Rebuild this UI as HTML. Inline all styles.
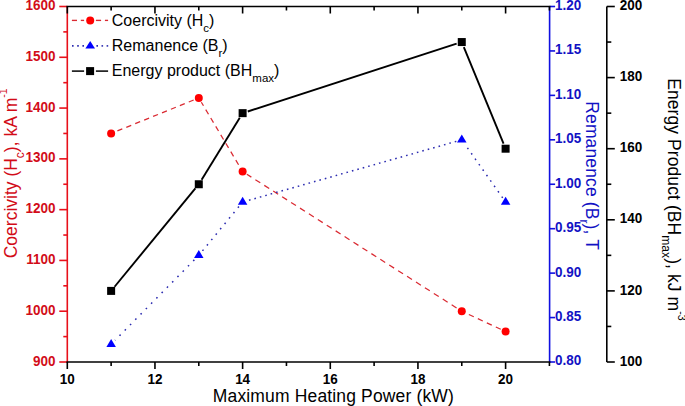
<!DOCTYPE html>
<html><head><meta charset="utf-8"><style>
html,body{margin:0;padding:0;background:#fff;width:685px;height:406px;overflow:hidden}
svg{display:block;font-family:"Liberation Sans",sans-serif}
</style></head><body>
<svg width="685" height="406" viewBox="0 0 685 406" font-family="Liberation Sans, sans-serif">
<rect width="685" height="406" fill="#fff"/>
<line x1="67.30" y1="6.50" x2="67.30" y2="362.00" stroke="#e8101a" stroke-width="1.6" />
<line x1="59.30" y1="362.00" x2="67.30" y2="362.00" stroke="#e8101a" stroke-width="1.6" />
<text transform="translate(55.50,365.60) scale(0.95,1)" fill="#d20c18" font-size="14.2" text-anchor="end" font-weight="bold">900</text>
<line x1="59.30" y1="311.21" x2="67.30" y2="311.21" stroke="#e8101a" stroke-width="1.6" />
<text transform="translate(55.50,314.81) scale(0.95,1)" fill="#d20c18" font-size="14.2" text-anchor="end" font-weight="bold">1000</text>
<line x1="59.30" y1="260.43" x2="67.30" y2="260.43" stroke="#e8101a" stroke-width="1.6" />
<text transform="translate(55.50,264.03) scale(0.95,1)" fill="#d20c18" font-size="14.2" text-anchor="end" font-weight="bold">1100</text>
<line x1="59.30" y1="209.64" x2="67.30" y2="209.64" stroke="#e8101a" stroke-width="1.6" />
<text transform="translate(55.50,213.24) scale(0.95,1)" fill="#d20c18" font-size="14.2" text-anchor="end" font-weight="bold">1200</text>
<line x1="59.30" y1="158.86" x2="67.30" y2="158.86" stroke="#e8101a" stroke-width="1.6" />
<text transform="translate(55.50,162.46) scale(0.95,1)" fill="#d20c18" font-size="14.2" text-anchor="end" font-weight="bold">1300</text>
<line x1="59.30" y1="108.07" x2="67.30" y2="108.07" stroke="#e8101a" stroke-width="1.6" />
<text transform="translate(55.50,111.67) scale(0.95,1)" fill="#d20c18" font-size="14.2" text-anchor="end" font-weight="bold">1400</text>
<line x1="59.30" y1="57.29" x2="67.30" y2="57.29" stroke="#e8101a" stroke-width="1.6" />
<text transform="translate(55.50,60.89) scale(0.95,1)" fill="#d20c18" font-size="14.2" text-anchor="end" font-weight="bold">1500</text>
<line x1="59.30" y1="6.50" x2="67.30" y2="6.50" stroke="#e8101a" stroke-width="1.6" />
<text transform="translate(55.50,10.10) scale(0.95,1)" fill="#d20c18" font-size="14.2" text-anchor="end" font-weight="bold">1600</text>
<line x1="63.30" y1="336.61" x2="67.30" y2="336.61" stroke="#e8101a" stroke-width="1.6" />
<line x1="63.30" y1="285.82" x2="67.30" y2="285.82" stroke="#e8101a" stroke-width="1.6" />
<line x1="63.30" y1="235.04" x2="67.30" y2="235.04" stroke="#e8101a" stroke-width="1.6" />
<line x1="63.30" y1="184.25" x2="67.30" y2="184.25" stroke="#e8101a" stroke-width="1.6" />
<line x1="63.30" y1="133.46" x2="67.30" y2="133.46" stroke="#e8101a" stroke-width="1.6" />
<line x1="63.30" y1="82.68" x2="67.30" y2="82.68" stroke="#e8101a" stroke-width="1.6" />
<line x1="63.30" y1="31.89" x2="67.30" y2="31.89" stroke="#e8101a" stroke-width="1.6" />
<line x1="549.60" y1="6.50" x2="549.60" y2="362.00" stroke="#1010e0" stroke-width="1.6" />
<line x1="549.60" y1="362.00" x2="555.10" y2="362.00" stroke="#1010e0" stroke-width="1.6" />
<text transform="translate(555.00,365.40) scale(0.95,1)" fill="#1212c4" font-size="14.2" text-anchor="start" font-weight="bold">0.80</text>
<line x1="549.60" y1="317.56" x2="555.10" y2="317.56" stroke="#1010e0" stroke-width="1.6" />
<text transform="translate(555.00,320.96) scale(0.95,1)" fill="#1212c4" font-size="14.2" text-anchor="start" font-weight="bold">0.85</text>
<line x1="549.60" y1="273.12" x2="555.10" y2="273.12" stroke="#1010e0" stroke-width="1.6" />
<text transform="translate(555.00,276.52) scale(0.95,1)" fill="#1212c4" font-size="14.2" text-anchor="start" font-weight="bold">0.90</text>
<line x1="549.60" y1="228.69" x2="555.10" y2="228.69" stroke="#1010e0" stroke-width="1.6" />
<text transform="translate(555.00,232.09) scale(0.95,1)" fill="#1212c4" font-size="14.2" text-anchor="start" font-weight="bold">0.95</text>
<line x1="549.60" y1="184.25" x2="555.10" y2="184.25" stroke="#1010e0" stroke-width="1.6" />
<text transform="translate(555.00,187.65) scale(0.95,1)" fill="#1212c4" font-size="14.2" text-anchor="start" font-weight="bold">1.00</text>
<line x1="549.60" y1="139.81" x2="555.10" y2="139.81" stroke="#1010e0" stroke-width="1.6" />
<text transform="translate(555.00,143.21) scale(0.95,1)" fill="#1212c4" font-size="14.2" text-anchor="start" font-weight="bold">1.05</text>
<line x1="549.60" y1="95.37" x2="555.10" y2="95.37" stroke="#1010e0" stroke-width="1.6" />
<text transform="translate(555.00,98.77) scale(0.95,1)" fill="#1212c4" font-size="14.2" text-anchor="start" font-weight="bold">1.10</text>
<line x1="549.60" y1="50.94" x2="555.10" y2="50.94" stroke="#1010e0" stroke-width="1.6" />
<text transform="translate(555.00,54.34) scale(0.95,1)" fill="#1212c4" font-size="14.2" text-anchor="start" font-weight="bold">1.15</text>
<line x1="549.60" y1="6.50" x2="555.10" y2="6.50" stroke="#1010e0" stroke-width="1.6" />
<text transform="translate(555.00,9.90) scale(0.95,1)" fill="#1212c4" font-size="14.2" text-anchor="start" font-weight="bold">1.20</text>
<line x1="606.80" y1="6.50" x2="606.80" y2="362.00" stroke="#000" stroke-width="1.6" />
<line x1="606.80" y1="362.00" x2="614.80" y2="362.00" stroke="#000" stroke-width="1.6" />
<text transform="translate(619.80,365.60) scale(0.95,1)" fill="#000" font-size="14.2" text-anchor="start" font-weight="bold">100</text>
<line x1="606.80" y1="290.90" x2="614.80" y2="290.90" stroke="#000" stroke-width="1.6" />
<text transform="translate(619.80,294.50) scale(0.95,1)" fill="#000" font-size="14.2" text-anchor="start" font-weight="bold">120</text>
<line x1="606.80" y1="219.80" x2="614.80" y2="219.80" stroke="#000" stroke-width="1.6" />
<text transform="translate(619.80,223.40) scale(0.95,1)" fill="#000" font-size="14.2" text-anchor="start" font-weight="bold">140</text>
<line x1="606.80" y1="148.70" x2="614.80" y2="148.70" stroke="#000" stroke-width="1.6" />
<text transform="translate(619.80,152.30) scale(0.95,1)" fill="#000" font-size="14.2" text-anchor="start" font-weight="bold">160</text>
<line x1="606.80" y1="77.60" x2="614.80" y2="77.60" stroke="#000" stroke-width="1.6" />
<text transform="translate(619.80,81.20) scale(0.95,1)" fill="#000" font-size="14.2" text-anchor="start" font-weight="bold">180</text>
<line x1="606.80" y1="6.50" x2="614.80" y2="6.50" stroke="#000" stroke-width="1.6" />
<text transform="translate(619.80,10.10) scale(0.95,1)" fill="#000" font-size="14.2" text-anchor="start" font-weight="bold">200</text>
<line x1="606.80" y1="326.45" x2="611.30" y2="326.45" stroke="#000" stroke-width="1.6" />
<line x1="606.80" y1="255.35" x2="611.30" y2="255.35" stroke="#000" stroke-width="1.6" />
<line x1="606.80" y1="184.25" x2="611.30" y2="184.25" stroke="#000" stroke-width="1.6" />
<line x1="606.80" y1="113.15" x2="611.30" y2="113.15" stroke="#000" stroke-width="1.6" />
<line x1="606.80" y1="42.05" x2="611.30" y2="42.05" stroke="#000" stroke-width="1.6" />
<line x1="66.50" y1="362.00" x2="550.40" y2="362.00" stroke="#000" stroke-width="1.6" />
<line x1="66.50" y1="6.50" x2="550.40" y2="6.50" stroke="#000" stroke-width="1.6" />
<line x1="67.30" y1="362.00" x2="67.30" y2="369.00" stroke="#000" stroke-width="1.6" />
<line x1="67.30" y1="6.50" x2="67.30" y2="13.50" stroke="#000" stroke-width="1.6" />
<text transform="translate(67.30,384.30) scale(0.95,1)" fill="#000" font-size="14.2" text-anchor="middle" font-weight="bold">10</text>
<line x1="111.13" y1="362.00" x2="111.13" y2="366.00" stroke="#000" stroke-width="1.6" />
<line x1="111.13" y1="6.50" x2="111.13" y2="10.50" stroke="#000" stroke-width="1.6" />
<line x1="154.96" y1="362.00" x2="154.96" y2="369.00" stroke="#000" stroke-width="1.6" />
<line x1="154.96" y1="6.50" x2="154.96" y2="13.50" stroke="#000" stroke-width="1.6" />
<text transform="translate(154.96,384.30) scale(0.95,1)" fill="#000" font-size="14.2" text-anchor="middle" font-weight="bold">12</text>
<line x1="198.79" y1="362.00" x2="198.79" y2="366.00" stroke="#000" stroke-width="1.6" />
<line x1="198.79" y1="6.50" x2="198.79" y2="10.50" stroke="#000" stroke-width="1.6" />
<line x1="242.62" y1="362.00" x2="242.62" y2="369.00" stroke="#000" stroke-width="1.6" />
<line x1="242.62" y1="6.50" x2="242.62" y2="13.50" stroke="#000" stroke-width="1.6" />
<text transform="translate(242.62,384.30) scale(0.95,1)" fill="#000" font-size="14.2" text-anchor="middle" font-weight="bold">14</text>
<line x1="286.45" y1="362.00" x2="286.45" y2="366.00" stroke="#000" stroke-width="1.6" />
<line x1="286.45" y1="6.50" x2="286.45" y2="10.50" stroke="#000" stroke-width="1.6" />
<line x1="330.28" y1="362.00" x2="330.28" y2="369.00" stroke="#000" stroke-width="1.6" />
<line x1="330.28" y1="6.50" x2="330.28" y2="13.50" stroke="#000" stroke-width="1.6" />
<text transform="translate(330.28,384.30) scale(0.95,1)" fill="#000" font-size="14.2" text-anchor="middle" font-weight="bold">16</text>
<line x1="374.11" y1="362.00" x2="374.11" y2="366.00" stroke="#000" stroke-width="1.6" />
<line x1="374.11" y1="6.50" x2="374.11" y2="10.50" stroke="#000" stroke-width="1.6" />
<line x1="417.94" y1="362.00" x2="417.94" y2="369.00" stroke="#000" stroke-width="1.6" />
<line x1="417.94" y1="6.50" x2="417.94" y2="13.50" stroke="#000" stroke-width="1.6" />
<text transform="translate(417.94,384.30) scale(0.95,1)" fill="#000" font-size="14.2" text-anchor="middle" font-weight="bold">18</text>
<line x1="461.77" y1="362.00" x2="461.77" y2="366.00" stroke="#000" stroke-width="1.6" />
<line x1="461.77" y1="6.50" x2="461.77" y2="10.50" stroke="#000" stroke-width="1.6" />
<line x1="505.60" y1="362.00" x2="505.60" y2="369.00" stroke="#000" stroke-width="1.6" />
<line x1="505.60" y1="6.50" x2="505.60" y2="13.50" stroke="#000" stroke-width="1.6" />
<text transform="translate(505.60,384.30) scale(0.95,1)" fill="#000" font-size="14.2" text-anchor="middle" font-weight="bold">20</text>
<line x1="549.43" y1="362.00" x2="549.43" y2="366.00" stroke="#000" stroke-width="1.6" />
<line x1="549.43" y1="6.50" x2="549.43" y2="10.50" stroke="#000" stroke-width="1.6" />
<line x1="115.76" y1="131.59" x2="194.16" y2="99.79" stroke="#da2a32" stroke-width="1.25" stroke-dasharray="5.30 4.33" stroke-dashoffset="7.88"/>
<line x1="201.35" y1="102.21" x2="240.06" y2="167.26" stroke="#da2a32" stroke-width="1.25" stroke-dasharray="5.39 4.41" stroke-dashoffset="1.23"/>
<line x1="246.84" y1="174.24" x2="457.55" y2="308.53" stroke="#da2a32" stroke-width="1.25" stroke-dasharray="5.82 4.76" stroke-dashoffset="0.46"/>
<line x1="466.31" y1="313.32" x2="501.06" y2="329.43" stroke="#da2a32" stroke-width="1.25" stroke-dasharray="5.45 4.46" stroke-dashoffset="7.12"/>
<line x1="114.99" y1="340.31" x2="196.05" y2="258.13" stroke="#2c2cb0" stroke-width="1.5" stroke-dasharray="1.60 5.90" stroke-dashoffset="1.10"/>
<line x1="202.28" y1="251.10" x2="240.14" y2="205.04" stroke="#2c2cb0" stroke-width="1.5" stroke-dasharray="1.60 5.37" stroke-dashoffset="6.67"/>
<line x1="247.91" y1="200.52" x2="458.02" y2="140.88" stroke="#2c2cb0" stroke-width="1.5" stroke-dasharray="1.60 4.03" stroke-dashoffset="4.53"/>
<line x1="464.94" y1="144.31" x2="503.35" y2="198.84" stroke="#2c2cb0" stroke-width="1.5" stroke-dasharray="1.60 5.03" stroke-dashoffset="2.33"/>
<line x1="114.56" y1="286.73" x2="195.36" y2="188.42" stroke="#000" stroke-width="1.9" />
<line x1="201.62" y1="179.65" x2="239.79" y2="117.75" stroke="#000" stroke-width="1.9" />
<line x1="247.76" y1="111.48" x2="456.63" y2="43.72" stroke="#000" stroke-width="1.9" />
<line x1="463.82" y1="47.04" x2="503.55" y2="143.71" stroke="#000" stroke-width="1.9" />
<circle cx="111.13" cy="133.46" r="4" fill="#ff0000"/>
<circle cx="198.79" cy="97.91" r="4" fill="#ff0000"/>
<circle cx="242.62" cy="171.55" r="4" fill="#ff0000"/>
<circle cx="461.77" cy="311.21" r="4" fill="#ff0000"/>
<circle cx="505.60" cy="331.53" r="4" fill="#ff0000"/>
<polygon points="111.13,338.89 115.88,346.89 106.38,346.89" fill="#0000ff"/>
<polygon points="198.79,250.02 203.54,258.02 194.04,258.02" fill="#0000ff"/>
<polygon points="242.62,196.69 247.37,204.69 237.87,204.69" fill="#0000ff"/>
<polygon points="461.77,134.48 466.52,142.48 457.02,142.48" fill="#0000ff"/>
<polygon points="505.60,196.69 510.35,204.69 500.85,204.69" fill="#0000ff"/>
<rect x="107.13" y="286.90" width="8" height="8" fill="#000"/>
<rect x="194.79" y="180.25" width="8" height="8" fill="#000"/>
<rect x="238.62" y="109.15" width="8" height="8" fill="#000"/>
<rect x="457.77" y="38.05" width="8" height="8" fill="#000"/>
<rect x="501.60" y="144.70" width="8" height="8" fill="#000"/>
<line x1="71.90" y1="20.40" x2="77.00" y2="20.40" stroke="#da2a32" stroke-width="1.35" />
<line x1="80.80" y1="20.40" x2="84.10" y2="20.40" stroke="#da2a32" stroke-width="1.35" />
<line x1="95.90" y1="20.40" x2="101.10" y2="20.40" stroke="#da2a32" stroke-width="1.35" />
<line x1="104.90" y1="20.40" x2="108.10" y2="20.40" stroke="#da2a32" stroke-width="1.35" />
<circle cx="90.2" cy="20.4" r="4" fill="#ff0000"/>
<line x1="72.00" y1="45.90" x2="73.60" y2="45.90" stroke="#2c2cb0" stroke-width="1.6" />
<line x1="77.20" y1="45.90" x2="78.80" y2="45.90" stroke="#2c2cb0" stroke-width="1.6" />
<line x1="82.40" y1="45.90" x2="84.00" y2="45.90" stroke="#2c2cb0" stroke-width="1.6" />
<line x1="96.40" y1="45.90" x2="98.00" y2="45.90" stroke="#2c2cb0" stroke-width="1.6" />
<line x1="101.50" y1="45.90" x2="103.10" y2="45.90" stroke="#2c2cb0" stroke-width="1.6" />
<line x1="106.60" y1="45.90" x2="108.20" y2="45.90" stroke="#2c2cb0" stroke-width="1.6" />
<polygon points="90.2,40.9 95.0,48.6 85.4,48.6" fill="#0000ff"/>
<line x1="71.90" y1="71.10" x2="84.10" y2="71.10" stroke="#000" stroke-width="1.5" />
<line x1="95.90" y1="71.10" x2="108.10" y2="71.10" stroke="#000" stroke-width="1.5" />
<rect x="86.1" y="67.1" width="8" height="8" fill="#000"/>
<text x="111.8" y="26.1" font-size="16" fill="#000">Coercivity (H<tspan font-size="11.5" dy="6">c</tspan><tspan dy="-6">)</tspan></text>
<text x="111.8" y="51.3" font-size="16" fill="#000">Remanence (B<tspan font-size="11.5" dy="6">r</tspan><tspan dy="-6">)</tspan></text>
<text x="111.8" y="76.4" font-size="16" fill="#000">Energy product (BH<tspan font-size="11.5" dy="6">max</tspan><tspan dy="-6">)</tspan></text>
<text x="333.4" y="401.6" font-size="17.5" fill="#000" text-anchor="middle" letter-spacing="0.15">Maximum Heating Power (kW)</text>
<text transform="translate(16.6,258.3) rotate(-90)" x="0" y="0" font-size="17.5" fill="#d20c18">Coercivity (H<tspan font-size="12" dy="7">c</tspan><tspan dy="-7">), kA m</tspan><tspan font-size="10.5" dy="-9.5">-1</tspan></text>
<text transform="translate(585.8,101.3) rotate(90)" x="0" y="0" letter-spacing="0.12" font-size="17.5" fill="#1212c4">Remanence (B<tspan font-size="12" dy="6">r</tspan><tspan dy="-6">), T</tspan></text>
<text transform="translate(668.4,78.2) rotate(90)" x="0" y="0" letter-spacing="0.08" font-size="17.5" fill="#000">Energy Product (BH<tspan font-size="12" dy="6.5">max</tspan><tspan dy="-6.5">), kJ m</tspan><tspan font-size="10.5" dy="-9.5">-3</tspan></text>
</svg>
</body></html>
